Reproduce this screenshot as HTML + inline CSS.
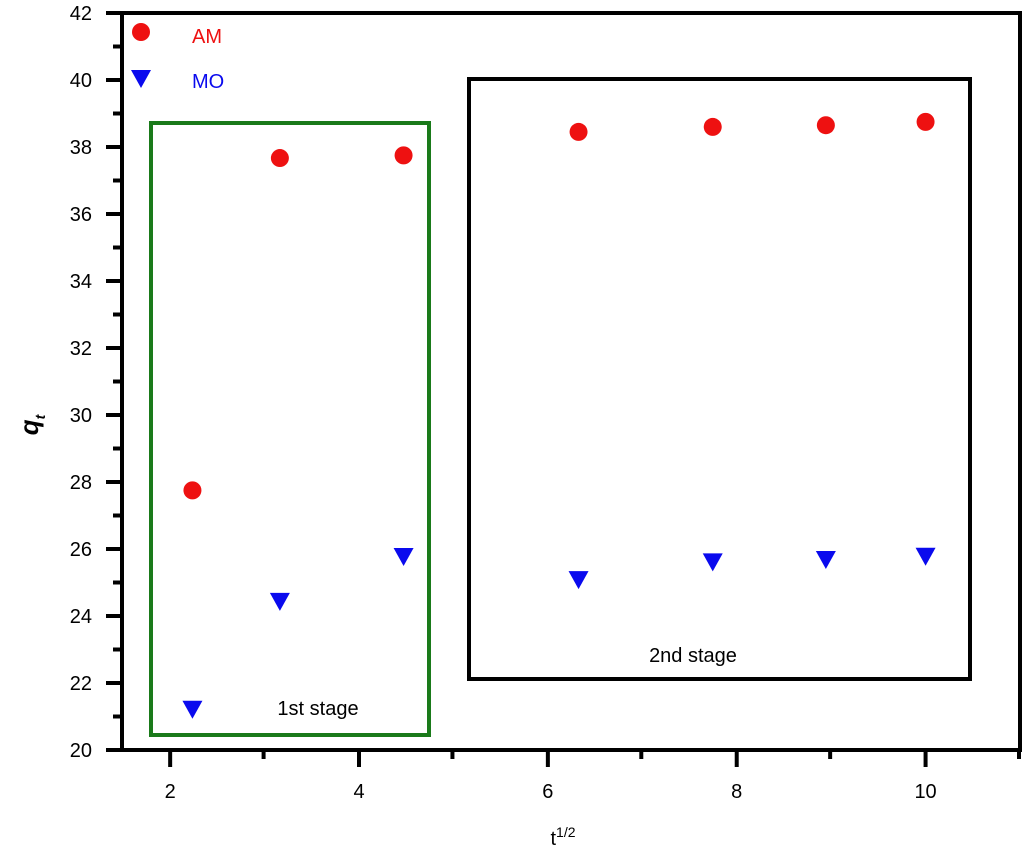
<!DOCTYPE html>
<html><head><meta charset="utf-8"><style>body{margin:0;background:#fff}svg{display:block;font-family:"Liberation Sans",Arial,sans-serif}</style></head>
<body>
<svg id="c" width="1024" height="854" viewBox="0 0 1024 854"></svg>
<script>
const xCats=[2.236,3.162,4.472,6.325,7.746,8.944,10];
const amValues=[27.75,37.67,37.75,38.45,38.6,38.65,38.75];
const moValues=[21.2,24.42,25.76,25.07,25.6,25.67,25.77];
const xTicks=[2,4,6,8,10];
const yTicks=[20,22,24,26,28,30,32,34,36,38,40,42];
const L=122,R=1020,T=13,B=750,xMin=1.49,xMax=11.0,yMin=20,yMax=42;
const sx=v=>L+(v-xMin)/(xMax-xMin)*(R-L);
const sy=v=>B-(v-yMin)/(yMax-yMin)*(B-T);
const svg=document.getElementById('c');const NS='http://www.w3.org/2000/svg';
function mk(t,a,txt){const e=document.createElementNS(NS,t);for(const k in a)e.setAttribute(k,a[k]);if(txt!==undefined)e.textContent=txt;svg.appendChild(e);return e;}
let e;
e=mk('rect',{x:151,y:123,width:278,height:612,fill:'none',stroke:'#1a7a1a','stroke-width':4});


e=mk('rect',{x:469,y:79,width:501,height:600,fill:'none',stroke:'#000','stroke-width':4});


e=mk('text',{x:318,y:715,'font-size':20,'text-anchor':'middle'},'1st stage');


e=mk('text',{x:693,y:662,'font-size':20,'text-anchor':'middle'},'2nd stage');


e=mk('rect',{x:L,y:T,width:R-L,height:B-T,fill:'none',stroke:'#000','stroke-width':4});


yTicks.forEach((v,i)=>{
 e=mk('line',{x1:L,x2:106,y1:sy(v),y2:sy(v),stroke:'#000','stroke-width':4});
 
 
 e=mk('text',{x:92,y:sy(v)+7,'font-size':20,'text-anchor':'end'},String(v));
 
 
 if(i<yTicks.length-1){e=mk('line',{x1:L,x2:113,y1:sy(v+1),y2:sy(v+1),stroke:'#000','stroke-width':4});
 
 }
});
xTicks.forEach(v=>{
 e=mk('line',{x1:sx(v),x2:sx(v),y1:B,y2:767,stroke:'#000','stroke-width':4});
 
 
 e=mk('text',{x:sx(v),y:798,'font-size':20,'text-anchor':'middle'},String(v));
 
 
});
[3,5,7,9,11].forEach(v=>{e=mk('line',{x1:sx(v)-1,x2:sx(v)-1,y1:B,y2:759,stroke:'#000','stroke-width':4});
 
 });
e=mk('text',{x:563,y:845,'font-size':20,'text-anchor':'middle'});
e.innerHTML='t<tspan dy="-8" font-size="14">1/2</tspan>';


e=mk('text',{x:0,y:0,'font-size':26,'font-weight':'bold','font-style':'italic',transform:'translate(38,425) rotate(-90)','text-anchor':'middle'});
e.innerHTML='q<tspan dy="7" font-size="14">t</tspan>';


function tri(x,y){return `${x-10},${y-9} ${x+10},${y-9} ${x},${y+9}`;}
xCats.forEach((x,i)=>{
 e=mk('circle',{cx:sx(x),cy:sy(amValues[i]),r:9,fill:'#ee1111'});
 
 
 e=mk('polygon',{points:tri(sx(x),sy(moValues[i])),fill:'#0a0aee'});
 
 
});
e=mk('circle',{cx:141,cy:32,r:9,fill:'#ee1111'});


e=mk('text',{x:192,y:43,'font-size':20,fill:'#ee1111'},'AM');


e=mk('polygon',{points:tri(141,79),fill:'#0a0aee'});


e=mk('text',{x:192,y:88,'font-size':20,fill:'#0a0aee'},'MO');


</script>
</body></html>
